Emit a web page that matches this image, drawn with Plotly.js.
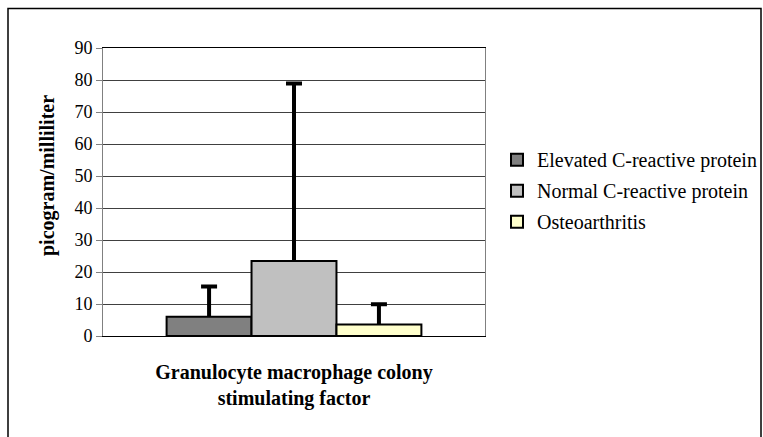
<!DOCTYPE html>
<html>
<head>
<meta charset="utf-8">
<script src="https://cdn.plot.ly/plotly-3.0.1.min.js"></script>
<style>
html,body{margin:0;padding:0;background:#fff;}
#chart{width:763px;height:437px;}
</style>
</head>
<body>
<div id="chart"></div>
<script>
const categories = ['Granulocyte macrophage colony stimulating factor'];
const categoryLabels = ['<b>Granulocyte macrophage colony<br>stimulating factor</b>'];
const seriesNames = ['Elevated C-reactive protein', 'Normal C-reactive protein', 'Osteoarthritis'];
const elevatedValues = [6.0];
const normalValues = [23.4];
const osteoValues = [3.6];
const elevatedErrors = [9.5];
const normalErrors = [55.5];
const osteoErrors = [6.3];
const yTicks = [0, 10, 20, 30, 40, 50, 60, 70, 80, 90];
const yTitle = 'picogram/milliliter';

const colors = ['#808080', '#C0C0C0', '#FFFFCC'];
const values = [elevatedValues, normalValues, osteoValues];
const errors = [elevatedErrors, normalErrors, osteoErrors];

const serif = 'Liberation Serif';

const traces = [];
seriesNames.forEach((name, i) => {
  traces.push({
    type: 'bar',
    name: name,
    x: categories,
    y: values[i],
    offsetgroup: 'g' + i,
    legendgroup: 'g' + i,
    marker: {color: colors[i], line: {color: '#000', width: 2}},
    error_y: {
      type: 'data', symmetric: false,
      array: errors[i], arrayminus: errors[i].map(() => 0),
      color: '#000', thickness: 4, width: 0
    }
  });
});
seriesNames.forEach((name, i) => {
  traces.push({
    type: 'bar',
    name: name + ' (error cap)',
    x: categories,
    y: values[i].map((v, k) => v + errors[i][k]),
    offsetgroup: 'g' + i,
    showlegend: false,
    marker: {color: 'rgba(0,0,0,0)', line: {width: 0}},
    error_y: {
      type: 'data', symmetric: false,
      array: errors[i].map(() => 0), arrayminus: errors[i].map(() => 0),
      color: '#000', thickness: 4, width: 8
    }
  });
});

const layout = {
  width: 763, height: 437,
  margin: {l: 103, r: 278, t: 48, b: 101, autoexpand: false},
  paper_bgcolor: '#fff', plot_bgcolor: '#fff',
  barmode: 'group', bargap: 0.333, bargroupgap: 0,
  font: {family: serif, color: '#000', size: 18},
  showlegend: true,
  legend: {
    x: (497 - 103) / 382, y: 0.68, xanchor: 'left', yanchor: 'top',
    font: {family: serif, size: 20, color: '#000'},
    bgcolor: 'rgba(0,0,0,0)', itemwidth: 30,
    traceorder: 'grouped', tracegroupgap: 2
  },
  xaxis: {
    type: 'category',
    tickvals: categories, ticktext: categoryLabels,
    tickfont: {family: serif, size: 20, color: '#000'},
    ticks: '', ticklabelstandoff: 18,
    showline: true, linecolor: '#000', linewidth: 1, mirror: true,
    showgrid: false, zeroline: false, fixedrange: true
  },
  yaxis: {
    range: [0, 90], tickvals: yTicks,
    tickfont: {family: serif, size: 18, color: '#000'},
    ticks: 'outside', ticklen: 6, tickcolor: '#808080',
    showline: true, linecolor: '#808080', linewidth: 1, mirror: true,
    showgrid: true, gridcolor: '#404040', gridwidth: 1,
    zeroline: false
  },
  annotations: [{
    text: '<b>' + yTitle + '</b>', textangle: -90,
    xref: 'paper', yref: 'paper', x: (47 - 103) / 382, y: (336 - 176) / 288,
    xanchor: 'center', yanchor: 'middle', showarrow: false,
    font: {family: serif, size: 20, color: '#000'}
  }],
  shapes: [{
    type: 'rect', xref: 'paper', yref: 'paper',
    x0: (8 - 103) / 382, x1: (761 - 103) / 382,
    y0: (336 - 445) / 288, y1: (336 - 8.5) / 288,
    line: {color: '#000', width: 1.5}, fillcolor: 'rgba(0,0,0,0)', layer: 'below'
  }]
};

Plotly.newPlot('chart', traces, layout, {displayModeBar: false, staticPlot: true});
</script>
</body>
</html>
